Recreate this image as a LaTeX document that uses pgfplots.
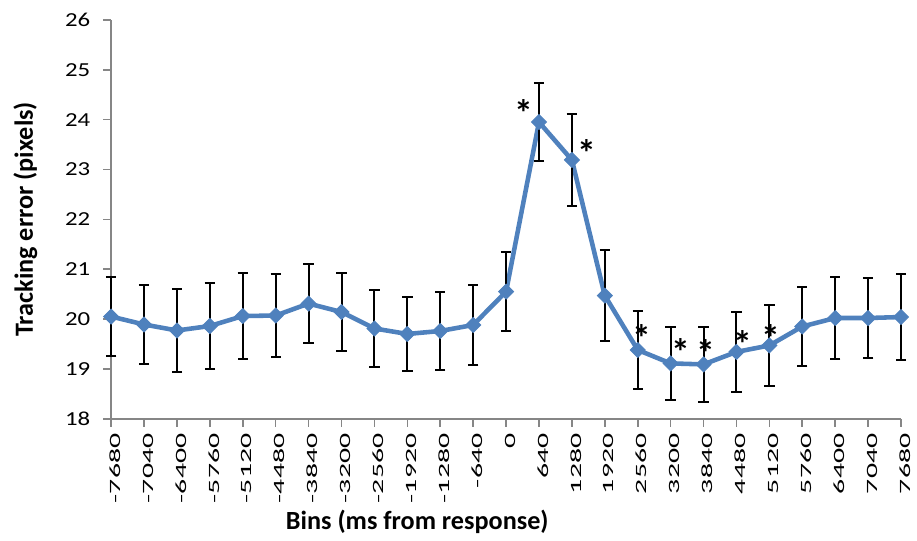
\documentclass[border=0pt]{standalone}
\usepackage{pgfplots}
\pgfplotsset{compat=1.18}
\usepackage{fontspec}
\setmainfont{Carlito}
\newfontfamily\xtickfont[FakeStretch=1.9]{Carlito}
\newfontfamily\ytickfont[FakeStretch=1.25]{Carlito}
\definecolor{xlblue}{RGB}{79,129,189}
\definecolor{axgray}{RGB}{134,134,134}

% bin index, mean tracking error, error bar half-length
\pgfplotstableread{
idx val err
0 20.05 0.80
1 19.89 0.80
2 19.77 0.83
3 19.86 0.86
4 20.06 0.87
5 20.07 0.84
6 20.31 0.80
7 20.14 0.78
8 19.81 0.77
9 19.70 0.75
10 19.76 0.78
11 19.88 0.80
12 20.55 0.79
13 23.95 0.79
14 23.19 0.93
15 20.47 0.91
16 19.38 0.79
17 19.11 0.73
18 19.09 0.75
19 19.34 0.80
20 19.47 0.81
21 19.85 0.79
22 20.02 0.82
23 20.02 0.80
24 20.04 0.86
}\tracking

% significance markers
\pgfplotstableread{
x y
12.54 24.29
14.46 23.48
16.12 19.77
17.30 19.49
18.08 19.47
19.21 19.65
20.05 19.77
}\stars

\begin{document}
\begin{tikzpicture}
\begin{axis}[
    scale only axis,
    width=398pt, height=201pt,
    xmin=0, xmax=24, ymin=18, ymax=26,
    axis lines=left,
    axis line style={-, axgray, line width=0.8pt},
    tick style={axgray, line width=0.8pt},
    tick align=outside,
    major tick length=4pt,
    xtick={0,...,24},
    xticklabels={-7680,-7040,-6400,-5760,-5120,-4480,-3840,-3200,-2560,-1920,-1280,-640,0,640,1280,1920,2560,3200,3840,4480,5120,5760,6400,7040,7680},
    x tick label style={rotate=90, anchor=east, font=\xtickfont\fontsize{7.9}{9}\selectfont, yshift=-2pt},
    ytick={18,...,26},
    y tick label style={font=\ytickfont\fontsize{10}{12}\selectfont, xshift=-3pt},
    /pgf/number format/assume math mode=true,
    xlabel={\textbf{Bins (ms from response)}},
    ylabel={\textbf{Tracking error (pixels)}},
    xlabel style={at={(axis description cs:0.3876,-0.2786)}, anchor=base, font=\fontsize{13.2}{15}\selectfont},
    ylabel style={at={(axis description cs:-0.0992,0.5)}, anchor=base, font=\fontsize{13.2}{15}\selectfont},
    clip=false,
]
\path (axis description cs:-0.1407,-0.3035) rectangle (axis description cs:1.0113,1.0498);

\addplot[
    xlblue, line width=2.3pt,
    mark=square*, mark size=2.65pt,
    mark options={rotate=45, fill=xlblue, draw=xlblue, line width=0.5pt},
    error bars/.cd, y dir=both, y explicit,
    error mark=-,
    error bar style={black, line width=1pt},
    error mark options={rotate=90, black, line width=1pt, mark size=2.6pt},
] table[x=idx, y=val, y error=err] {\tracking};

\addplot[
    draw=none, mark=none,
    nodes near coords={\textbf{*}},
    every node near coord/.append style={anchor=center, inner sep=0pt, font=\fontsize{19}{19}\selectfont, yshift=-4pt},
] table[x=x, y=y] {\stars};
\end{axis}
\end{tikzpicture}
\end{document}
